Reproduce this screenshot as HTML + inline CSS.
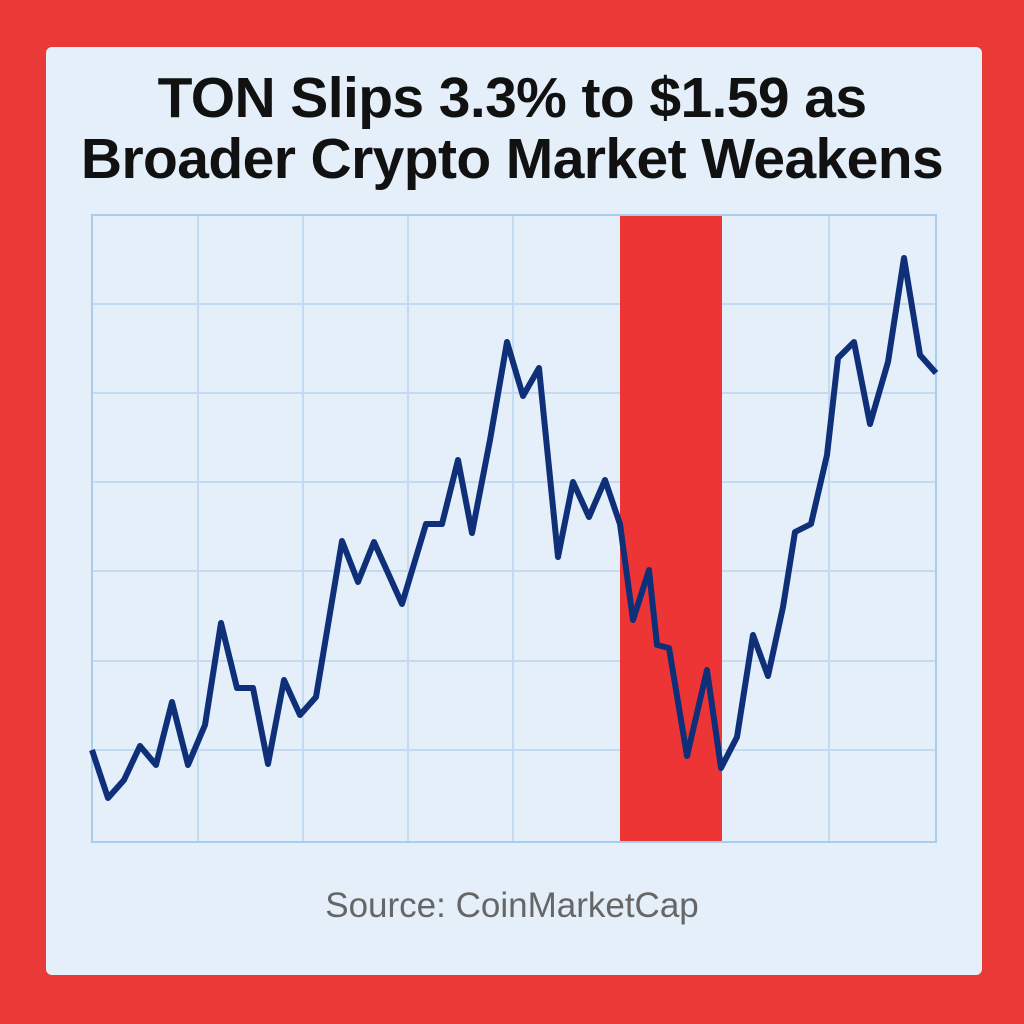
<!DOCTYPE html>
<html><head><meta charset="utf-8"><style>
html,body{margin:0;padding:0;width:1024px;height:1024px;background:#ea3a38;overflow:hidden}
.card{position:absolute;left:46px;top:47px;width:936px;height:928px;background:#e4effa;border-radius:6px}
.t{position:absolute;left:0;width:1024px;text-align:center;font-family:"Liberation Sans",sans-serif;font-weight:bold;font-size:57px;color:#111;letter-spacing:-0.6px;line-height:1}
.s{position:absolute;left:0;width:1024px;text-align:center;font-family:"Liberation Sans",sans-serif;font-size:35px;color:#666;line-height:1}
</style></head><body>
<div class="card"></div>
<div class="t" style="top:70px">TON Slips 3.3% to $1.59 as</div>
<div class="t" style="top:131px">Broader Crypto Market Weakens</div>
<svg style="position:absolute;left:0;top:0" width="1024" height="1024">
<g stroke="#c4daf0" stroke-width="2">
<line x1="198" y1="215" x2="198" y2="842"/><line x1="303" y1="215" x2="303" y2="842"/>
<line x1="408" y1="215" x2="408" y2="842"/><line x1="513" y1="215" x2="513" y2="842"/>
<line x1="829" y1="215" x2="829" y2="842"/>
<line x1="92" y1="304" x2="936" y2="304"/><line x1="92" y1="393" x2="936" y2="393"/>
<line x1="92" y1="482" x2="936" y2="482"/><line x1="92" y1="571" x2="936" y2="571"/>
<line x1="92" y1="661" x2="936" y2="661"/><line x1="92" y1="750" x2="936" y2="750"/>
</g>
<rect x="620" y="215" width="102" height="627" fill="#ee3535"/>
<rect x="92" y="215" width="844" height="627" fill="none" stroke="#a9cdee" stroke-width="2"/>
<polyline fill="none" stroke="#0f2f78" stroke-width="6" stroke-linejoin="round" points="92,750 108,798 124,780 140,746 156,765 172,702 188,765 205,725 221,623 237,688 253,688 268,764 284,680 300,715 316,697 342,541 358,582 374,542 402,604 426,524 442,524 458,460 472,533 490,440 507,342 523,396 539,368 558,557 573,482 589,517 605,480 620,524 633,620 649,570 657,645 669,648 687,756 707,670 721,768 737,737 753,635 768,676 783,607 795,532 811,524 827,455 838,358 854,342 870,424 888,362 904,258 920,355 936,373"/>
</svg>
<div class="s" style="top:888px">Source: CoinMarketCap</div>
</body></html>
